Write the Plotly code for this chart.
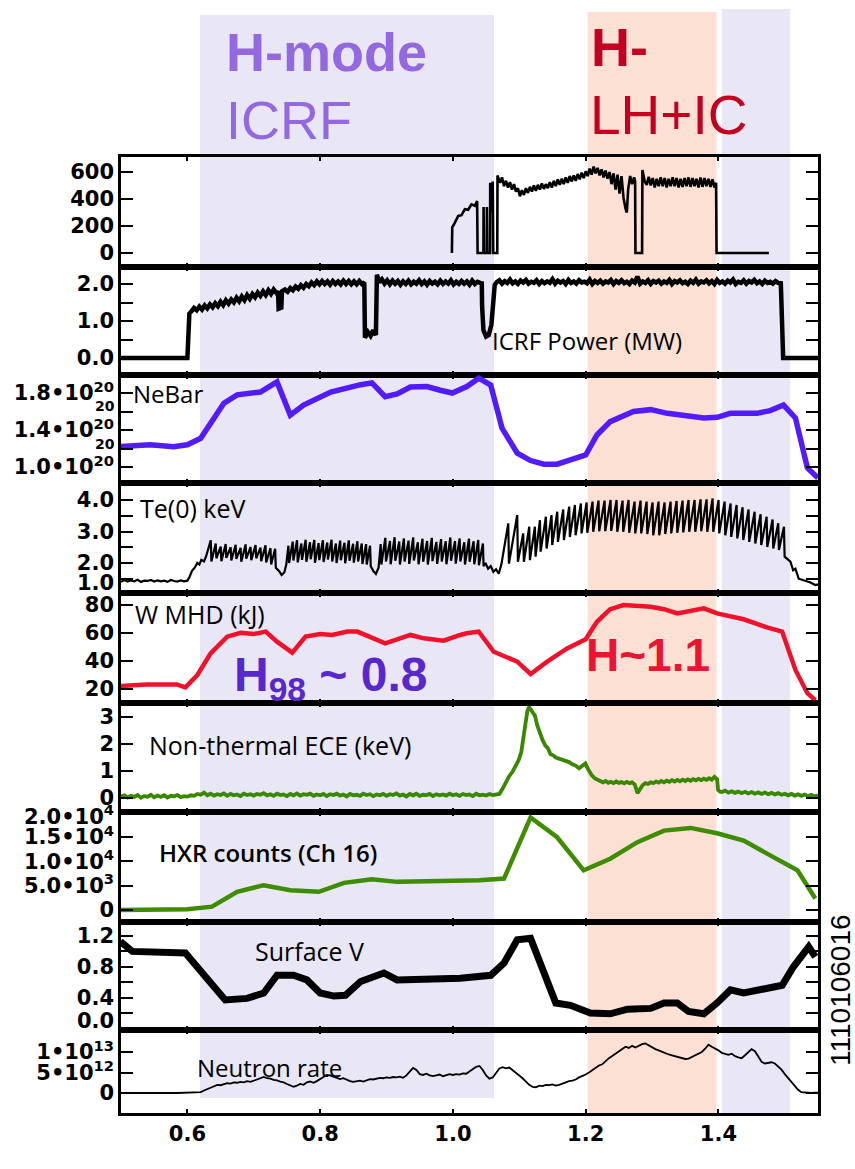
import plotly.graph_objects as go
from plotly.subplots import make_subplots

# ------------------------------------------------------------------ data
# LH power (kW) -- panel 1
lh_t = [0.9985, 0.9990, 1.003, 1.008, 1.013, 1.018, 1.023, 1.028, 1.033, 1.0365, 1.0372,
        1.046, 1.0462, 1.0468, 1.0510, 1.0512, 1.0518, 1.0560, 1.0562, 1.0580, 1.0600, 1.0608,
        1.0668, 1.0672,
        1.071, 1.074, 1.077, 1.080, 1.083, 1.086, 1.089, 1.092, 1.095, 1.098, 1.101, 1.104,
        1.107, 1.110, 1.113, 1.116, 1.119, 1.122, 1.125, 1.128, 1.131, 1.134, 1.137, 1.140,
        1.143, 1.146, 1.149, 1.152, 1.155, 1.158, 1.161, 1.164, 1.167, 1.170, 1.173, 1.176,
        1.179, 1.182, 1.185, 1.188, 1.191, 1.194, 1.197, 1.200, 1.203, 1.206, 1.209, 1.212,
        1.215, 1.218, 1.221, 1.224, 1.227, 1.230, 1.233, 1.236, 1.239, 1.242, 1.245, 1.248,
        1.251, 1.254, 1.257, 1.260, 1.262, 1.264, 1.267, 1.270, 1.273, 1.2745, 1.2750,
        1.2850, 1.2855, 1.289, 1.292, 1.295, 1.298, 1.301, 1.304, 1.307, 1.310, 1.313, 1.316,
        1.319, 1.322, 1.325, 1.328, 1.331, 1.334, 1.337, 1.340, 1.343, 1.346, 1.349, 1.352,
        1.355, 1.358, 1.361, 1.364, 1.367, 1.370, 1.373, 1.376, 1.379, 1.382, 1.385, 1.388,
        1.391, 1.394, 1.3965, 1.3972, 1.476]
lh_v = [0, 190, 225, 275, 280, 325, 320, 360, 350, 385, 0,
        0, 340, 0, 0, 340, 0, 0, 520, 300, 530, 0,
        0, 575,
        520, 560, 495, 535, 485, 525, 470, 510, 455, 480, 420, 465,
        430, 480, 445, 490, 455, 500, 460, 505, 470, 515, 475, 510,
        480, 525, 485, 535, 495, 545, 505, 550, 510, 560, 520, 570,
        530, 575, 535, 585, 545, 595, 555, 605, 570, 625, 580, 640,
        590, 630, 575, 620, 560, 610, 550, 600, 510, 590, 470, 580,
        440, 570, 410, 330, 300, 470, 570, 510, 560, 530, 0,
        0, 615, 530, 505, 565, 500, 555, 485, 550, 495, 560, 495,
        555, 485, 550, 495, 560, 495, 555, 485, 550, 490, 555, 495,
        560, 490, 555, 495, 550, 485, 560, 490, 555, 495, 550, 490,
        545, 485, 520, 0, 0]

# ICRF power (MW) -- panel 2
icrf_t = [0.500, 0.600, 0.6015, 0.603,
          0.606, 0.610, 0.614, 0.618, 0.622, 0.626, 0.630, 0.634, 0.638, 0.642, 0.646, 0.650,
          0.654, 0.658, 0.662, 0.666, 0.670, 0.674, 0.678, 0.682, 0.686, 0.690, 0.694, 0.698,
          0.702, 0.706, 0.710, 0.714, 0.718, 0.722, 0.726, 0.730, 0.734,
          0.7365, 0.7375, 0.7415, 0.7425,
          0.747, 0.751, 0.755, 0.759, 0.763, 0.767, 0.771, 0.775, 0.779, 0.783, 0.787, 0.791,
          0.795, 0.799, 0.803, 0.807, 0.811, 0.815, 0.819, 0.823, 0.827, 0.831, 0.835, 0.839,
          0.843, 0.847, 0.851, 0.855, 0.859, 0.863,
          0.8665, 0.8675, 0.872, 0.876, 0.880, 0.884, 0.8855,
          0.889, 0.893, 0.897, 0.901, 0.905, 0.909, 0.913, 0.917, 0.921, 0.925, 0.929, 0.933,
          0.937, 0.941, 0.945, 0.949, 0.953, 0.957, 0.961, 0.965, 0.969, 0.973, 0.977, 0.981,
          0.985, 0.989, 0.993, 0.997, 1.001, 1.005, 1.009, 1.013, 1.017, 1.021, 1.025, 1.029,
          1.033, 1.037, 1.041,
          1.0435, 1.044, 1.046, 1.050, 1.054, 1.058, 1.061, 1.063]
icrf_v = [0.0, 0.0, 0.6, 1.2,
          1.26, 1.35, 1.29, 1.39, 1.31, 1.42, 1.34, 1.45, 1.37, 1.48, 1.40, 1.52,
          1.43, 1.56, 1.47, 1.58, 1.50, 1.63, 1.53, 1.66, 1.56, 1.70, 1.60, 1.73,
          1.64, 1.77, 1.68, 1.80, 1.70, 1.83, 1.73, 1.85, 1.76,
          1.80, 1.33, 1.36, 1.80,
          1.85, 1.79, 1.89, 1.83, 1.93, 1.87, 1.97, 1.90, 2.00, 1.94, 2.04, 1.97,
          2.07, 1.99, 2.08, 2.00, 2.07, 1.98, 2.08, 2.00, 2.07, 1.99, 2.09, 2.00,
          2.08, 1.99, 2.07, 1.99, 2.08, 2.00,
          2.04, 0.55, 0.70, 0.60, 0.75, 0.62, 2.25,
          2.05, 2.13, 2.01, 2.10, 1.99, 2.09, 2.01, 2.08, 1.98, 2.07, 2.00, 2.09,
          1.99, 2.06, 2.01, 2.10, 2.00, 2.07, 1.98, 2.08, 2.01, 2.06, 1.99, 2.09,
          2.00, 2.07, 2.01, 2.10, 1.99, 2.06, 2.00, 2.08, 2.01, 2.07, 1.98, 2.09,
          2.00, 2.06, 2.03,
          2.02, 1.40, 0.75, 0.58, 0.62, 0.90, 1.60, 1.98]
icrf_plateau_start = 1.066
icrf_plateau_step = 0.004
icrf_plateau_v = [2.05, 2.10, 2.01, 2.08, 2.03, 2.12, 2.02, 2.07, 2.00, 2.09, 2.04, 2.11, 2.01, 2.06, 2.03, 2.10, 2.00, 2.08, 2.02, 2.07,
                  2.03, 2.13, 2.01, 2.09, 2.04, 2.08, 2.00, 2.11, 2.03, 2.07, 2.01, 2.10, 2.04, 2.06, 2.02, 2.12, 2.00, 2.08, 2.03, 2.09,
                  2.01, 2.07, 2.04, 2.11, 2.00, 2.08, 2.03, 2.10, 2.02, 2.06, 2.00, 2.09, 2.04, 2.20, 2.01, 2.07, 2.03, 2.10, 2.00, 2.08,
                  2.04, 2.09, 2.01, 2.07, 2.03, 2.11, 2.00, 2.08, 2.04, 2.10, 2.02, 2.06, 2.00, 2.09, 2.03, 2.12, 2.01, 2.07, 2.04, 2.10,
                  2.02, 2.08, 2.00, 2.11, 2.03, 2.07, 2.01, 2.09, 2.04, 2.12, 2.00, 2.06, 2.03, 2.10, 2.01, 2.08, 2.04, 2.11, 2.02, 2.07,
                  2.00, 2.09, 2.03, 2.06, 2.01, 2.08, 2.03]
icrf_end_t = [1.494, 1.4975, 1.55]
icrf_end_v = [2.02, 0.0, 0.0]

# NeBar (1e20 m^-3) -- panel 3
ne_t = [0.499, 0.544, 0.579, 0.600, 0.620, 0.655, 0.675, 0.710, 0.735, 0.755, 0.775, 0.816,
        0.861, 0.878, 0.898, 0.916, 0.936, 0.961, 0.981, 0.999, 1.021, 1.039, 1.057, 1.074,
        1.097, 1.117, 1.137, 1.157, 1.177, 1.200, 1.217, 1.237, 1.272, 1.298, 1.323, 1.353,
        1.378, 1.398, 1.418, 1.458, 1.478, 1.498, 1.516, 1.534, 1.550]
ne_v = [1.22, 1.24, 1.22, 1.24, 1.31, 1.69, 1.78, 1.81, 1.92, 1.56, 1.67, 1.81,
        1.89, 1.91, 1.76, 1.79, 1.865, 1.87, 1.83, 1.80, 1.87, 1.96, 1.886, 1.42,
        1.15, 1.07, 1.03, 1.03, 1.076, 1.13, 1.346, 1.49, 1.60, 1.62, 1.58, 1.55,
        1.53, 1.537, 1.58, 1.58, 1.61, 1.67, 1.53, 0.99, 0.88]

# Te(0) keV -- panel 4
te_base_start = 0.500
te_base_step = 0.005
te_base_v = [1.40, 1.46, 1.41, 1.45, 1.42, 1.47, 1.40, 1.44, 1.43, 1.46, 1.41,
             1.45, 1.42, 1.44, 1.40, 1.46, 1.43, 1.41, 1.45, 1.42, 1.44]
te_rise_t = [0.603, 0.607, 0.611, 0.615, 0.618, 0.621, 0.625, 0.628]
te_rise_v = [1.55, 1.75, 1.85, 2.00, 1.95, 2.10, 2.05, 2.20]
teA_crash = [0.636, 0.6435, 0.651, 0.6585, 0.666, 0.6735, 0.681, 0.6885, 0.696, 0.7035, 0.711, 0.7185, 0.726, 0.733]
teA_peak = [2.72, 2.62, 2.52, 2.60, 2.50, 2.58, 2.48, 2.59, 2.51, 2.57, 2.49, 2.56, 2.47, 2.45]
teA_trough = [2.05, 2.15, 2.06, 2.16, 2.08, 2.13, 2.04, 2.14, 2.09, 2.15, 2.06, 2.02, 1.95, 1.85]
teA_dip_t = [0.738, 0.742, 0.746, 0.749]
teA_dip_v = [1.75, 1.62, 1.70, 1.95]
teB_crash = [0.753, 0.7595, 0.766, 0.7725, 0.779, 0.7855, 0.792, 0.7985, 0.805, 0.8115, 0.818, 0.8245,
             0.831, 0.8375, 0.844, 0.8505, 0.857, 0.8635, 0.870, 0.876]
teB_peak = [2.55, 2.68, 2.72, 2.62, 2.74, 2.66, 2.73, 2.63, 2.72, 2.65, 2.74, 2.62, 2.71, 2.64, 2.72, 2.61,
            2.69, 2.62, 2.60, 2.55]
teB_trough = [2.00, 2.08, 2.02, 2.10, 2.04, 2.12, 2.01, 2.09, 2.03, 2.11, 2.05, 2.00, 2.09, 1.99, 2.07, 2.01,
              2.05, 1.97, 1.95, 1.90]
teB_dip_t = [0.880, 0.884, 0.888]
teB_dip_v = [1.75, 1.65, 1.85]
teC_crash = [0.892, 0.899, 0.906, 0.913, 0.920, 0.927, 0.934, 0.941, 0.948, 0.955, 0.962, 0.969, 0.976,
             0.983, 0.990, 0.997, 1.004, 1.011, 1.018, 1.025, 1.032, 1.039, 1.046]
teC_peak = [2.60, 2.80, 2.70, 2.82, 2.68, 2.78, 2.71, 2.81, 2.66, 2.77, 2.70, 2.80, 2.67, 2.76, 2.69, 2.81,
            2.70, 2.78, 2.66, 2.77, 2.69, 2.73, 2.62]
teC_trough = [1.95, 2.05, 1.96, 2.07, 1.95, 2.05, 1.97, 2.08, 1.96, 2.04, 1.95, 2.06, 1.97, 2.05, 1.96, 2.07,
              1.98, 2.05, 1.95, 2.04, 1.96, 1.93, 1.90]
teC_dip_t = [1.049, 1.053, 1.057, 1.061, 1.065, 1.069, 1.073, 1.077]
teC_dip_v = [2.00, 1.82, 1.90, 1.72, 1.80, 1.66, 1.95, 2.50]
teD_crash = [1.0842, 1.0977, 1.1067, 1.1158, 1.1243, 1.1319, 1.1409, 1.1494, 1.1580, 1.1670, 1.1760, 1.1846,
             1.1936, 1.2022, 1.2112, 1.2202, 1.2293, 1.2383, 1.2474, 1.2564, 1.2654, 1.2745, 1.2835, 1.2926,
             1.3016, 1.3106, 1.3197, 1.3287, 1.3378, 1.3468, 1.3558, 1.3649, 1.3739, 1.3830, 1.3920, 1.4010,
             1.4101, 1.4191, 1.4282, 1.4372, 1.4462, 1.4553, 1.4643, 1.4734, 1.4824, 1.4909, 1.4995]
teD_peak = [3.26, 3.52, 2.94, 3.15, 3.15, 3.36, 3.47, 3.52, 3.63, 3.70, 3.79, 3.84, 3.89, 3.92, 3.95, 3.98,
            3.98, 4.00, 4.00, 3.98, 4.00, 3.95, 3.98, 3.95, 3.92, 3.95, 3.92, 3.95, 3.97, 3.98, 4.00, 4.00,
            4.02, 4.02, 4.05, 4.00, 3.95, 3.89, 3.84, 3.77, 3.70, 3.63, 3.55, 3.47, 3.38, 3.26, 3.15]
teD_trough = [1.98, 2.04, 2.04, 2.09, 2.20, 2.36, 2.46, 2.57, 2.67, 2.73, 2.83, 2.88, 2.94, 2.96, 2.99, 3.01,
              3.01, 3.02, 2.99, 2.99, 2.96, 2.94, 2.94, 2.92, 2.88, 2.88, 2.92, 2.94, 2.96, 2.97, 2.99, 2.99,
              3.01, 2.99, 2.99, 2.94, 2.88, 2.83, 2.78, 2.73, 2.67, 2.62, 2.57, 2.51, 2.46, 2.41, 2.20]
te_tail_t = [1.5085, 1.5125, 1.516, 1.521, 1.526, 1.531, 1.5386, 1.546, 1.550]
te_tail_v = [2.04, 1.77, 1.82, 1.50, 1.47, 1.43, 1.38, 1.30, 1.32]

# W MHD (kJ) -- panel 5
w_t = [0.499, 0.539, 0.584, 0.597, 0.615, 0.635, 0.660, 0.680, 0.700, 0.718, 0.735, 0.758,
       0.778, 0.800, 0.818, 0.841, 0.856, 0.876, 0.898, 0.916, 0.936, 0.956, 0.986, 1.011,
       1.021, 1.039, 1.0615, 1.097, 1.117, 1.142, 1.172, 1.200, 1.217, 1.237, 1.257, 1.298,
       1.318, 1.338, 1.378, 1.398, 1.438, 1.473, 1.496, 1.516, 1.534, 1.546]
w_v = [22.1, 23.3, 23.3, 21.2, 30.0, 45.5, 57.4, 60.2, 59.3, 61.0, 53.8, 46.0,
       57.4, 59.3, 58.6, 61.0, 61.0, 56.7, 52.6, 55.5, 58.6, 56.2, 54.5, 58.6,
       59.8, 61.0, 46.6, 39.5, 30.7, 39.5, 49.0, 55.5, 68.0, 77.0, 80.0, 78.8,
       77.0, 74.0, 77.6, 74.0, 69.8, 64.0, 61.0, 33.6, 17.0, 12.0]

# Non-thermal ECE (keV) -- panel 6
ece_base_start = 0.500
ece_base_step = 0.005
ece_base_v = [0.05, 0.10, 0.02, 0.08, 0.04, 0.11, 0.01, 0.07, 0.05, 0.12, 0.03, 0.09, 0.04, 0.10, 0.02, 0.08, 0.06, 0.11, 0.03, 0.07,
              0.05, 0.10, 0.08, 0.15, 0.12, 0.20, 0.10, 0.16, 0.09, 0.14, 0.11, 0.17, 0.08, 0.15, 0.10, 0.13, 0.07, 0.16, 0.11, 0.14,
              0.09, 0.15, 0.12, 0.18, 0.10, 0.14, 0.08, 0.16, 0.11, 0.13, 0.07, 0.15, 0.10, 0.17, 0.09, 0.14, 0.12, 0.16, 0.08, 0.13,
              0.10, 0.15, 0.07, 0.14, 0.11, 0.16, 0.09, 0.13, 0.06, 0.15, 0.10, 0.12, 0.08, 0.16, 0.11, 0.14, 0.07, 0.13, 0.10, 0.15,
              0.08, 0.14, 0.11, 0.17, 0.09, 0.13, 0.06, 0.15, 0.10, 0.16, 0.08, 0.12, 0.11, 0.15, 0.07, 0.14, 0.10, 0.13, 0.09, 0.16,
              0.10, 0.14, 0.08, 0.15, 0.11, 0.13, 0.07, 0.16, 0.10, 0.12, 0.09, 0.15, 0.11, 0.13]
ece_peak_t = [1.070, 1.075, 1.080, 1.0845, 1.090, 1.095, 1.099, 1.103, 1.106, 1.109, 1.112, 1.1145, 1.117,
              1.120, 1.1235, 1.127, 1.131, 1.135, 1.139, 1.143, 1.147, 1.151, 1.155, 1.160, 1.165, 1.170,
              1.175, 1.180, 1.185, 1.190, 1.195, 1.1995, 1.204, 1.209, 1.214, 1.219]
ece_peak_v = [0.15, 0.35, 0.62, 0.80, 0.98, 1.18, 1.40, 1.70, 2.20, 2.77, 3.20, 3.38, 3.30,
              3.22, 3.05, 2.70, 2.40, 2.15, 1.95, 1.85, 1.62, 1.58, 1.50, 1.46, 1.42, 1.36,
              1.33, 1.25, 1.20, 1.10, 1.18, 1.28, 1.05, 0.85, 0.72, 0.65]
ece_lh_start = 1.222
ece_lh_step = 0.004
ece_lh_v = [0.62, 0.58, 0.63, 0.56, 0.60, 0.55, 0.61, 0.56, 0.59, 0.54, 0.60, 0.55, 0.58, 0.50, 0.18,
            0.35, 0.48, 0.55, 0.52, 0.58, 0.55, 0.61, 0.57, 0.63, 0.58, 0.64, 0.60, 0.66, 0.61, 0.67,
            0.62, 0.68, 0.63, 0.69, 0.64, 0.70, 0.65, 0.71, 0.66, 0.72, 0.67, 0.73, 0.68, 0.78, 0.70]
ece_drop_t = [1.3995, 1.402]
ece_drop_v = [0.30, 0.24]
ece_tail_start = 1.405
ece_tail_step = 0.005
ece_tail_v = [0.22, 0.27, 0.20, 0.25, 0.19, 0.24, 0.18, 0.23, 0.17, 0.22, 0.16, 0.21, 0.15, 0.20, 0.14,
              0.19, 0.13, 0.18, 0.12, 0.16, 0.10, 0.15, 0.09, 0.14, 0.08, 0.13, 0.07, 0.12, 0.06, 0.10]

# HXR counts (Ch 16) -- panel 7
hxr_t = [0.499, 0.600, 0.637, 0.675, 0.715, 0.755, 0.798, 0.836, 0.878, 0.916, 0.961, 1.011,
         1.040, 1.077, 1.117, 1.157, 1.197, 1.237, 1.278, 1.318, 1.358, 1.398, 1.438, 1.478,
         1.519, 1.546]
hxr_v = [0, 136, 680, 3740, 5100, 4080, 3740, 5580, 6320, 5780, 5920, 5980,
         6100, 6460, 19030, 14950, 8160, 10540, 13940, 16320, 16870, 15770, 14280, 11220,
         8160, 2380]

# Surface V -- panel 8
sv_t = [0.499, 0.517, 0.597, 0.625, 0.657, 0.690, 0.715, 0.735, 0.760, 0.780, 0.800, 0.821,
        0.838, 0.861, 0.896, 0.916, 0.961, 1.011, 1.057, 1.077, 1.097, 1.117, 1.155, 1.177,
        1.207, 1.237, 1.263, 1.298, 1.318, 1.338, 1.355, 1.378, 1.398, 1.418, 1.438, 1.463,
        1.496, 1.513, 1.536, 1.546]
sv_v = [1.13, 1.00, 0.98, 0.69, 0.37, 0.39, 0.46, 0.69, 0.69, 0.63, 0.46, 0.42,
        0.43, 0.61, 0.72, 0.63, 0.63, 0.65, 0.69, 0.85, 1.15, 1.17, 0.33, 0.30,
        0.20, 0.19, 0.25, 0.26, 0.33, 0.33, 0.22, 0.19, 0.33, 0.50, 0.46, 0.50,
        0.56, 0.80, 1.06, 0.93]

# Neutron rate (1e12 /s) -- panel 9, five-millisecond samples per 0.1 s block
nr_blocks_start = [0.50, 0.60, 0.70, 0.80, 0.90, 1.00, 1.10, 1.20, 1.30, 1.40, 1.50]
nr_step = 0.005
nr_blocks_v = [
    [0, 0.05, 0, 0.03, 0, 0.05, 0.02, 0, 0.04, 0, 0.03, 0.01, 0, 0.05, 0, 0.02, 0.04, 0, 0.03, 0],
    [0.02, 0.05, 0.03, 0.1, 0.2, 0.6, 1.0, 1.3, 1.7, 2.0, 1.9, 2.2, 2.4, 2.3, 2.6, 2.5, 2.7, 2.6, 2.9, 2.7],
    [3.0, 3.3, 3.7, 3.9, 3.6, 3.5, 3.2, 3.1, 2.8, 2.6, 2.2, 1.8, 1.5, 1.8, 2.2, 2.0, 2.6, 2.8, 2.5, 2.9],
    [3.3, 3.9, 4.4, 4.3, 4.0, 3.7, 3.4, 3.6, 3.2, 2.9, 2.7, 2.9, 3.0, 2.8, 3.1, 3.4, 3.3, 3.5, 3.7, 3.6],
    [3.8, 3.7, 3.9, 3.8, 4.0, 3.7, 4.3, 5.2, 6.1, 5.6, 4.6, 4.4, 4.7, 4.3, 4.1, 4.3, 4.5, 4.1, 4.4, 4.6],
    [4.4, 4.6, 4.5, 4.8, 4.7, 5.2, 5.8, 6.4, 6.6, 5.6, 4.3, 3.5, 3.8, 4.9, 6.0, 6.3, 6.0, 6.2, 5.6, 4.8],
    [4.2, 3.6, 2.8, 2.0, 1.5, 1.4, 1.8, 1.7, 2.0, 1.9, 2.1, 1.8, 2.0, 2.3, 2.5, 2.9, 3.0, 3.3, 3.8, 4.1],
    [4.5, 5.0, 5.6, 6.3, 6.7, 7.0, 7.8, 8.5, 9.0, 9.6, 10.2, 10.9, 11.3, 11.0, 11.5, 11.1, 11.6, 11.9, 12.1, 11.6],
    [11.2, 10.7, 10.4, 10.0, 9.8, 9.4, 9.2, 9.0, 8.8, 8.5, 8.3, 8.4, 8.8, 9.1, 9.4, 10.0, 10.8, 11.8, 11.3, 10.9],
    [10.4, 9.8, 9.5, 9.3, 9.6, 9.0, 8.7, 8.5, 9.2, 9.9, 10.7, 10.2, 8.9, 7.6, 7.2, 7.3, 7.5, 7.2, 6.5, 5.7],
    [4.6, 3.6, 2.6, 1.6, 0.8, 0.2, 0.1, 0.1, 0.0, 0.1, 0.1],
]

# shaded phases (s)
phase_lav1 = (0.619, 1.062)
phase_lh = (1.203, 1.397)
phase_lav2 = (1.405, 1.508)

x_range = [0.5, 1.55]
x_ticks = [0.6, 0.8, 1.0, 1.2, 1.4]
x_ticktext = ["0.6", "0.8", "1.0", "1.2", "1.4"]


# ------------------------------------------------------------------ helpers
def regular(t0, dt, vals):
    return [round(t0 + i * dt, 6) for i in range(len(vals))], list(vals)


def teeth(crash, peak, trough):
    tt, vv = [], []
    for c, p, q in zip(crash, peak, trough):
        tt += [c - 0.0008, c + 0.0002]
        vv += [p, q]
    return tt, vv


icrf_pt, icrf_pv = regular(icrf_plateau_start, icrf_plateau_step, icrf_plateau_v)
icrf_x = icrf_t + icrf_pt + icrf_end_t
icrf_y = icrf_v + icrf_pv + icrf_end_v

te_x, te_y = regular(te_base_start, te_base_step, te_base_v)
te_x += te_rise_t; te_y += te_rise_v
for cr, pk, tr, dt_, dv_ in [(teA_crash, teA_peak, teA_trough, teA_dip_t, teA_dip_v),
                             (teB_crash, teB_peak, teB_trough, teB_dip_t, teB_dip_v),
                             (teC_crash, teC_peak, teC_trough, teC_dip_t, teC_dip_v),
                             (teD_crash, teD_peak, teD_trough, te_tail_t, te_tail_v)]:
    a, b = teeth(cr, pk, tr)
    te_x += a + dt_
    te_y += b + dv_

ece_x, ece_y = regular(ece_base_start, ece_base_step, ece_base_v)
ece_x += ece_peak_t; ece_y += ece_peak_v
a, b = regular(ece_lh_start, ece_lh_step, ece_lh_v)
ece_x += a + ece_drop_t; ece_y += b + ece_drop_v
a, b = regular(ece_tail_start, ece_tail_step, ece_tail_v)
ece_x += a; ece_y += b

nr_x, nr_y = [], []
for s, vals in zip(nr_blocks_start, nr_blocks_v):
    a, b = regular(s, nr_step, vals)
    nr_x += a; nr_y += b

# ------------------------------------------------------------------ geometry
W, H = 855, 1169
PL, PR = 121, 818
EDGES = [157, 267, 375, 483, 593, 703, 812, 922, 1030, 1113]
TOP, BOT = EDGES[0], EDGES[-1]
heights = [EDGES[i + 1] - EDGES[i] for i in range(9)]

anchors = [((0, 253), (600, 172)), ((0, 358), (2, 284)), ((1.0, 467), (1.8, 393)),
           ((2.0, 563), (4.0, 500)), ((20, 689), (80, 605)), ((0, 798), (3, 717)),
           ((0, 910), (15000, 837)), ((0.2, 1013), (1.2, 936)), ((0, 1093), (10, 1052))]


def yrange(i):
    (v1, p1), (v2, p2) = anchors[i]
    k = (v2 - v1) / (p2 - p1)
    return [v1 + (EDGES[i + 1] - p1) * k, v1 + (EDGES[i] - p1) * k]


def pyp(p):
    return (BOT - p) / (BOT - TOP)


def pxp(p):
    return (p - PL) / (PR - PL)


fig = make_subplots(rows=9, cols=1, shared_xaxes=True, vertical_spacing=0, row_heights=heights)

series = [
    (lh_t, lh_v, "black", 2.6),
    (icrf_x, icrf_y, "black", 4.5),
    (ne_t, ne_v, "rgb(82,28,250)", 5.5),
    (te_x, te_y, "black", 2.2),
    (w_t, w_v, "rgb(240,18,42)", 4.5),
    (ece_x, ece_y, "rgb(58,136,0)", 3.8),
    (hxr_t, hxr_v, "rgb(62,140,0)", 4.5),
    (sv_t, sv_v, "black", 7.0),
    (nr_x, nr_y, "black", 1.8),
]
for i, (xx, yy, col, lw) in enumerate(series):
    fig.add_trace(go.Scatter(x=xx, y=yy, mode="lines", line=dict(color=col, width=lw),
                             hoverinfo="skip", showlegend=False), row=i + 1, col=1)

sup = lambda a, e: f"{a}•10<sup>{e}</sup>"
ytick_cfg = [
    ([0, 200, 400, 600], ["0", "200", "400", "600"], []),
    ([0, 1, 2], ["0.0", "1.0", "2.0"], [0.5, 1.5]),
    ([1.0, 1.4, 1.8], [sup("1.0", 20), sup("1.4", 20), sup("1.8", 20)], [1.2, 1.6]),
    ([2, 3, 4], ["2.0", "3.0", "4.0"], [1.5, 2.5, 3.5]),
    ([20, 40, 60, 80], ["20", "40", "60", "80"], []),
    ([0, 1, 2, 3], ["0", "1", "2", "3"], []),
    ([0, 5000, 10000, 15000], ["0", sup("5.0", 3), sup("1.0", 4), sup("1.5", 4)], []),
    ([0.4, 0.8, 1.2], ["0.4", "0.8", "1.2"], [0.2, 0.6, 1.0]),
    ([0, 5, 10], ["0", sup("5", 12), sup("1", 13)], []),
]
TICK_FAMILY = "DejaVu Sans"
tickfont = dict(family=TICK_FAMILY, size=21, color="black", weight="bold")
for i in range(9):
    tv, tt, mv = ytick_cfg[i]
    fig.update_yaxes(range=yrange(i), tickvals=tv, ticktext=tt, ticks="inside", ticklen=12,
                     tickwidth=2, tickcolor="black", showline=True, linecolor="black", linewidth=2.5,
                     mirror="ticks", showgrid=False, zeroline=False, tickfont=tickfont,
                     row=i + 1, col=1)
    if mv:
        fig.update_yaxes(minor=dict(tickvals=mv, ticks="inside", ticklen=12, tickwidth=2,
                                    tickcolor="black", showgrid=False), row=i + 1, col=1)
    fig.update_xaxes(range=x_range, tickvals=x_ticks, ticktext=x_ticktext, ticks="inside", ticklen=4,
                     tickwidth=2, tickcolor="black", showline=True, linecolor="black", linewidth=2.5,
                     mirror="ticks", showgrid=False, zeroline=False, tickfont=tickfont,
                     showticklabels=(i == 8), row=i + 1, col=1)

lav = "rgb(233,230,246)"
sal = "rgb(251,224,211)"
for (x0, x1), col, ytop, ybot in [(phase_lav1, lav, 15, 1098), (phase_lh, sal, 12, BOT),
                                  (phase_lav2, lav, 9, BOT)]:
    fig.add_shape(type="rect", xref="x9", yref="paper", x0=x0, x1=x1, y0=pyp(ybot), y1=pyp(ytop),
                  fillcolor=col, line=dict(width=0), layer="below")


def ann(text, x, y, size, color="black", family="Open Sans", xanchor="left", yanchor="middle",
        angle=0, weight=None):
    f = dict(family=family, size=size, color=color)
    if weight:
        f["weight"] = weight
    fig.add_annotation(text=text, x=pxp(x), y=pyp(y), xref="paper", yref="paper", showarrow=False,
                       xanchor=xanchor, yanchor=yanchor, textangle=angle, font=f)


ann("<b>H-mode</b>", 224, 52, 54, "rgb(148,104,223)", "Liberation Sans")
ann("ICRF", 224, 120, 54, "rgb(148,104,223)", "Liberation Sans")
ann("<b>H-</b>", 589, 47, 54, "rgb(196,0,33)", "Liberation Sans")
ann("LH+IC", 588, 115, 55, "rgb(196,0,33)", "Liberation Sans")

ann("ICRF Power (MW)", 490, 341, 24)
ann("NeBar", 131, 393, 24)
ann("Te(0) keV", 138, 508, 25)
ann("W MHD (kJ)", 133, 614, 25)
ann("<b>H<sub>98</sub> ~ 0.8</b>", 232, 678, 48, "rgb(88,40,205)", "Liberation Sans")
ann("<b>H~1.1</b>", 584, 655, 46, "rgb(235,20,50)", "Liberation Sans")
ann("Non-thermal ECE (keV)", 147, 745, 25)
ann("HXR counts (Ch 16)", 157, 852, 24, weight=600)
ann("Surface V", 253, 951, 25)
ann("Neutron rate", 195, 1067, 24)
ann("1110106016", 840, 990, 28, "black", "Liberation Sans", xanchor="center", angle=-90)

# edge tick labels drawn nudged into their panel, as in the source figure
ann("1.0", 116, 583, 21, family=TICK_FAMILY, xanchor="right", weight="bold")
ann("0.0", 116, 1021, 21, family=TICK_FAMILY, xanchor="right", weight="bold")
ann(sup("2.0", 4), 116, 815, 21, family=TICK_FAMILY, xanchor="right", weight="bold")
# stray exponent marks beside the NeBar labels
ann("20", 117, 406, 14, family=TICK_FAMILY, xanchor="right", weight="bold")
ann("20", 117, 444, 14, family=TICK_FAMILY, xanchor="right", weight="bold")

fig.update_layout(width=W, height=H, margin=dict(l=PL, r=W - PR, t=TOP, b=H - BOT),
                  paper_bgcolor="white", plot_bgcolor="rgba(0,0,0,0)", showlegend=False)

fig.write_html("out.html")
